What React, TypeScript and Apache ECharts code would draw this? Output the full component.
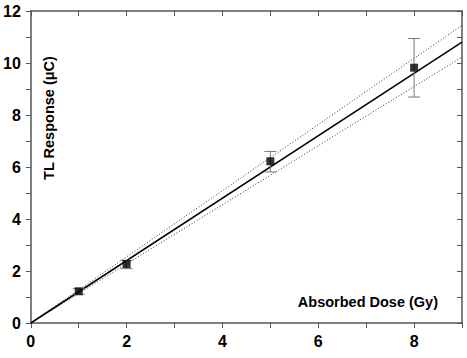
import React, { useEffect, useRef } from "react";
import * as echarts from "echarts";

const doses = [1, 2, 5, 8];
const responses = [1.22, 2.27, 6.22, 9.82];
const errLow = [1.11, 2.09, 5.81, 8.69];
const errHigh = [1.32, 2.41, 6.6, 10.94];
const fitLine = [[0, 0], [9, 10.8]];
const upperBand = [[0, 0], [9, 11.45]];
const lowerBand = [[0, 0], [9, 10.23]];

const AXIS_COLOR = "#555";
const FONT = "'Liberation Sans', Arial, sans-serif";

export default function App() {
  const ref = useRef<HTMLDivElement>(null);
  useEffect(() => {
    const chart = echarts.init(ref.current!, null, { renderer: "svg" });
    const baseX = {
      type: "value",
      min: 0,
      max: 9,
      interval: 1,
      splitLine: { show: false },
      axisLine: { show: true, onZero: false, lineStyle: { color: AXIS_COLOR, width: 1.5 } },
    };
    const baseY = {
      type: "value",
      min: 0,
      max: 12,
      interval: 1,
      splitLine: { show: false },
      axisLine: { show: true, onZero: false, lineStyle: { color: AXIS_COLOR, width: 1.5 } },
    };
    const evenFmt = (v: number) => (v % 2 === 0 ? String(v) : "");
    const errData = doses.map((d, i) => [d, errLow[i], errHigh[i]]);
    chart.setOption({
      animation: false,
      backgroundColor: "#fff",
      grid: { left: 28, right: 5, top: 11, bottom: 35, containLabel: false },
      xAxis: [
        {
          ...baseX,
          position: "bottom",
          axisTick: { show: true, inside: false, length: 5, lineStyle: { color: AXIS_COLOR, width: 1 } },
          axisLabel: {
            formatter: evenFmt,
            margin: 10,
            color: "#000",
            fontWeight: "bold",
            fontSize: 16,
            fontFamily: FONT,
            showMaxLabel: true,
            showMinLabel: true,
          },
        },
        {
          ...baseX,
          position: "top",
          axisTick: { show: true, inside: true, length: 5, lineStyle: { color: AXIS_COLOR, width: 1 } },
          axisLabel: { show: false },
        },
      ],
      yAxis: [
        {
          ...baseY,
          position: "left",
          axisTick: { show: true, inside: false, length: 5, lineStyle: { color: AXIS_COLOR, width: 1 } },
          axisLabel: {
            formatter: evenFmt,
            margin: 10,
            color: "#000",
            fontWeight: "bold",
            fontSize: 16,
            fontFamily: FONT,
          },
        },
        {
          ...baseY,
          position: "right",
          axisTick: { show: true, inside: true, length: 5, lineStyle: { color: AXIS_COLOR, width: 1 } },
          axisLabel: { show: false },
        },
      ],
      graphic: [
        {
          type: "text",
          x: 49,
          y: 118,
          rotation: Math.PI / 2,
          style: {
            text: "TL Response (\u03bcC)",
            fill: "#000",
            font: `bold 14.5px ${FONT}`,
            align: "center",
            verticalAlign: "middle",
          },
        },
        {
          type: "text",
          x: 438,
          y: 302,
          style: {
            text: "Absorbed Dose (Gy)",
            fill: "#000",
            font: `bold 14.5px ${FONT}`,
            align: "right",
            verticalAlign: "middle",
          },
        },
      ],
      series: [
        {
          type: "line",
          data: upperBand,
          symbol: "none",
          lineStyle: { color: "#333", width: 1, type: [1, 2] },
          z: 2,
        },
        {
          type: "line",
          data: lowerBand,
          symbol: "none",
          lineStyle: { color: "#333", width: 1, type: [1, 2] },
          z: 2,
        },
        {
          type: "line",
          data: fitLine,
          symbol: "none",
          lineStyle: { color: "#000", width: 1.5 },
          z: 3,
        },
        {
          type: "custom",
          data: errData,
          z: 4,
          renderItem: (params: any, api: any) => {
            const x = api.value(0);
            const top = api.coord([x, api.value(2)]);
            const bot = api.coord([x, api.value(1)]);
            const hw = 6;
            const style = { stroke: "#777", lineWidth: 1 };
            return {
              type: "group",
              children: [
                { type: "line", shape: { x1: top[0], y1: top[1], x2: bot[0], y2: bot[1] }, style },
                { type: "line", shape: { x1: top[0] - hw, y1: top[1], x2: top[0] + hw, y2: top[1] }, style },
                { type: "line", shape: { x1: bot[0] - hw, y1: bot[1], x2: bot[0] + hw, y2: bot[1] }, style },
              ],
            };
          },
        },
        {
          type: "scatter",
          data: doses.map((d, i) => [d, responses[i]]),
          symbol: "rect",
          symbolSize: 8,
          itemStyle: { color: "#000" },
          z: 5,
        },
      ],
    });
    return () => chart.dispose();
  }, []);
  return <div ref={ref} style={{ width: 467, height: 358, position: "absolute", left: 0, top: 0 }} />;
}
